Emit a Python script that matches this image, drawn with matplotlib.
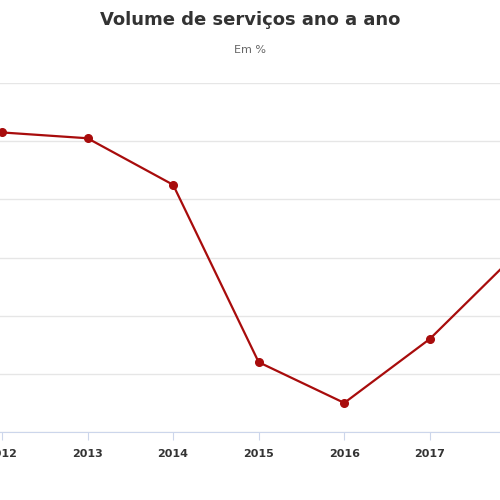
import matplotlib
matplotlib.use("Agg")
import matplotlib.pyplot as plt

years = [2012, 2013, 2014, 2015, 2016, 2017, 2018]
values = [4.3, 4.1, 2.5, -3.6, -5.0, -2.8, 0.1]

fig = plt.figure(figsize=(5, 5), dpi=100)
ax = fig.add_axes([0, 0.136, 1, 0.698])
ax.plot(years, values, color="#a80c0c", lw=1.6, marker="o", ms=5.5, clip_on=True)
ax.set_yticks([-6, -4, -2, 0, 2, 4, 6])
ax.set_yticklabels([])
ax.tick_params(axis="y", length=0)
ax.grid(axis="y", color="#e6e6e6", lw=1)
ax.set_xticks(years)
ax.set_xticklabels([str(y) for y in years], fontsize=8, fontweight="bold", color="#333333")
ax.tick_params(axis="x", length=6, color="#ccd6eb", pad=6)
ax.set_xlim(2011.977, 2017.82)
ax.set_ylim(-6, 6)
for s in ["top", "right", "left"]:
    ax.spines[s].set_visible(False)
ax.spines["bottom"].set_color("#ccd6eb")
fig.text(0.5, 0.96, "Volume de serviços ano a ano", ha="center", va="center",
         fontsize=13, fontweight="bold", color="#333333")
fig.text(0.5, 0.90, "Em %", ha="center", va="center", fontsize=8, color="#666666")
fig.savefig("out.png", dpi=100)
